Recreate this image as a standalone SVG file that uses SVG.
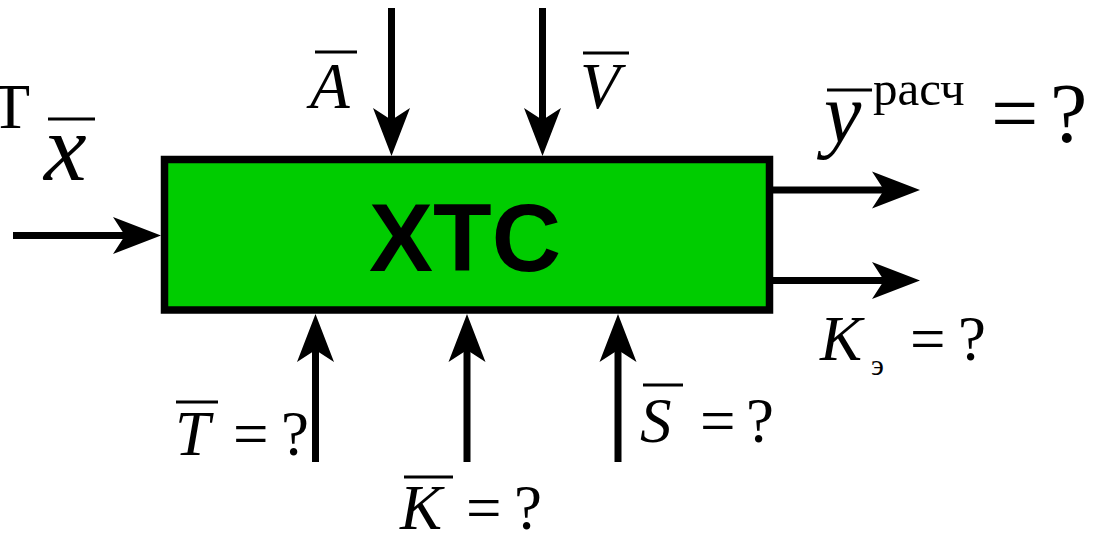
<svg xmlns="http://www.w3.org/2000/svg" width="1099" height="533" viewBox="0 0 1099 533">
<style>
.conn{stroke:#000;stroke-width:7;fill:none;marker-end:url(#ah)}
.m{font-family:"Liberation Serif","Times New Roman",serif;fill:#000}
.i{font-style:italic}
.ov{stroke:#000;stroke-width:3}
</style>
<defs>
<marker id="ah" markerUnits="userSpaceOnUse" viewBox="-12 -20 50 40" markerWidth="50" markerHeight="40" refX="0" refY="0" orient="auto">
<path d="M36,0 L-12,-18.5 L0,0 L-12,18.5 Z" fill="#000"/>
</marker>
</defs>
<rect width="1099" height="533" fill="#fff"/>
<g id="node-xtc">
<rect x="164.5" y="159.5" width="605" height="150.5" fill="#00cc00" stroke="#000" stroke-width="7.5"/>
<text x="465" y="271" text-anchor="middle" font-family="Liberation Sans, Arial, sans-serif" font-weight="bold" font-size="96">ХТС</text>
</g>
<g id="connectors">
<path class="conn" d="M13,235.5 H125"/>
<path class="conn" d="M391.5,8 V120"/>
<path class="conn" d="M542.5,8 V120"/>
<path class="conn" d="M315.5,462 V350"/>
<path class="conn" d="M467,462 V350"/>
<path class="conn" d="M618,462 V350"/>
<path class="conn" d="M773,190 H884"/>
<path class="conn" d="M773,280.5 H884"/>
</g>
<g id="label-x">
<text class="m" x="30" y="128" font-size="64" text-anchor="end">Т</text>
<line class="ov" x1="48" y1="119" x2="95" y2="119"/>
<text class="m i" x="44" y="180" font-size="96">x</text>
</g>
<g id="label-a">
<line class="ov" x1="315" y1="52" x2="357" y2="52"/>
<text class="m i" x="310" y="108" font-size="65">A</text>
</g>
<g id="label-v">
<line class="ov" x1="583" y1="53" x2="629" y2="53"/>
<text class="m i" x="580" y="108" font-size="65">V</text>
</g>
<g id="label-y">
<line class="ov" x1="827" y1="90" x2="872" y2="90"/>
<text class="m i" x="824" y="142" font-size="84">y</text>
<text class="m" x="873" y="105" font-size="49">расч</text>
<text class="m" x="991" y="142" font-size="84">=</text>
<text class="m" x="1050" y="142" font-size="84">?</text>
</g>
<g id="label-ke">
<text class="m i" x="820" y="360" font-size="63">K</text>
<text class="m" x="871" y="375" font-size="30">э</text>
<text class="m" x="910" y="360" font-size="63">=</text>
<text class="m" x="958" y="360" font-size="63">?</text>
</g>
<g id="label-t">
<line class="ov" x1="176" y1="402" x2="218" y2="402"/>
<text class="m i" x="175" y="455" font-size="63">T</text>
<text class="m" x="233" y="455" font-size="63">=</text>
<text class="m" x="281" y="455" font-size="63">?</text>
</g>
<g id="label-k">
<line class="ov" x1="404" y1="477" x2="453" y2="477"/>
<text class="m i" x="400" y="529" font-size="63">K</text>
<text class="m" x="466" y="529" font-size="63">=</text>
<text class="m" x="514" y="529" font-size="63">?</text>
</g>
<g id="label-s">
<line class="ov" x1="643" y1="385" x2="683" y2="385"/>
<text class="m i" x="640" y="442" font-size="63">S</text>
<text class="m" x="700" y="442" font-size="63">=</text>
<text class="m" x="746" y="442" font-size="63">?</text>
</g>
</svg>
